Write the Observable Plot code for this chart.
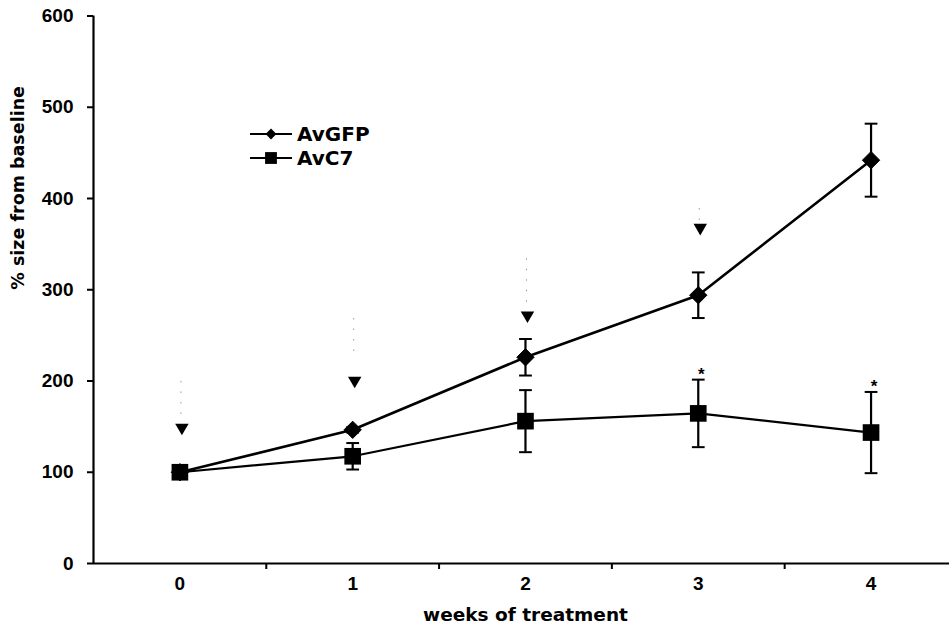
<!DOCTYPE html>
<html>
<head>
<meta charset="utf-8">
<script src="https://cdn.jsdelivr.net/npm/d3@7"></script>
<script src="https://cdn.jsdelivr.net/npm/@observablehq/plot@0.6"></script>
<style>
  html, body { margin: 0; padding: 0; background: #fff; }
  #wrap { position: relative; width: 949px; height: 633px; font-family: "Liberation Sans", Arial, Helvetica, sans-serif; font-weight: bold; }
</style>
</head>
<body>
<div id="wrap"></div>
<script>
// ---- data ----
const weeks = [0, 1, 2, 3, 4];
const gfpMean = [100, 146.5, 226, 294, 442];
const gfpErr  = [0, 3, 20, 25, 40];
const c7Mean  = [100, 117.5, 156, 164.5, 143.5];
const c7Err   = [0, 14.5, 34, 37, 44.5];

const arrowWeeks      = [0, 1, 2, 3];
const arrowHead       = [149, 200.5, 272, 368];
const arrowStemTop    = [199.5, 268.5, 334, 389];
const arrowStemBottom = [161, 224.7, 279, 376];

const starWeeks = [3, 4];

const yTicks = [0, 100, 200, 300, 400, 500, 600];
const xLabelTicks = [0, 1, 2, 3, 4];
const xBoundaryTicks = [0.5, 1.5, 2.5, 3.5];

const seriesNames = ["AvGFP", "AvC7"];

// ---- tables ----
const gfp = weeks.map((w, i) => ({week: w, mean: gfpMean[i], err: gfpErr[i], series: "AvGFP"}));
const c7  = weeks.map((w, i) => ({week: w, mean: c7Mean[i],  err: c7Err[i],  series: "AvC7"}));
const all = gfp.concat(c7);
const withErr = all.filter(d => d.err > 0);
const arrows = arrowWeeks.map((w, i) => ({week: w, head: arrowHead[i], top: arrowStemTop[i], bottom: arrowStemBottom[i]}));
const stars = starWeeks.map(w => c7.find(d => d.week === w));

const capSymbol = {
  draw(context, size) {
    const w = Math.sqrt(size);
    context.moveTo(-w / 2, 0);
    context.lineTo(w / 2, 0);
  }
};

const font = "'Liberation Sans', Arial, Helvetica, sans-serif";
const wideFont = "'DejaVu Sans', Verdana, sans-serif";

const chart = Plot.plot({
  width: 949,
  height: 633,
  marginLeft: 93,
  marginRight: 0,
  marginTop: 15.5,
  marginBottom: 70,
  style: {fontFamily: font, fontWeight: "bold", fontSize: "18px", color: "#000", background: "#fff", overflow: "visible"},
  x: {domain: [-0.5, 4.454], axis: null},
  y: {domain: [0, 600], axis: null},
  marks: [
    // axes
    Plot.axisY({ticks: yTicks, tickSize: 6, tickPadding: 14, strokeWidth: 2, fontSize: 19, fontWeight: "bold", label: null}),
    Plot.axisX({ticks: xBoundaryTicks, tickSize: 6, strokeWidth: 2, tickFormat: () => "", label: null}),
    Plot.axisX({ticks: xLabelTicks, tickSize: 0, tickPadding: 13, tickFormat: d3.format("d"), fontSize: 19, fontWeight: "bold", label: null}),
    Plot.ruleX([-0.5], {strokeWidth: 2.2}),
    Plot.ruleY([0], {strokeWidth: 2}),
    // axis titles
    Plot.text(["% size from baseline"], {frameAnchor: "left", dx: -75, rotate: -90, fontSize: 17.5, fontWeight: "bold", fontFamily: wideFont}),
    Plot.text(["weeks of treatment"], {frameAnchor: "bottom", dx: 4, dy: 57, fontSize: 18.5, fontWeight: "bold", fontFamily: wideFont}),
    // treatment arrows
    Plot.ruleX(arrows, {x: "week", y1: "top", y2: "bottom", stroke: "#999", strokeWidth: 1, strokeDasharray: "1.5,9", dx: 1}),
    Plot.dot(arrows, {x: "week", y: "head", symbol: "triangle", rotate: 180, r: 5, fill: "#000", stroke: "none", dx: 2}),
    // lines
    Plot.line(gfp, {x: "week", y: "mean", stroke: "#000", strokeWidth: 2.6}),
    Plot.line(c7, {x: "week", y: "mean", stroke: "#000", strokeWidth: 2.2}),
    // error bars
    Plot.ruleX(withErr, {x: "week", y1: d => d.mean - d.err, y2: d => d.mean + d.err, stroke: "#000", strokeWidth: 2.2}),
    Plot.dot(withErr, {x: "week", y: d => d.mean + d.err, symbol: capSymbol, r: 7.2, fill: "none", stroke: "#000", strokeWidth: 2}),
    Plot.dot(withErr, {x: "week", y: d => d.mean - d.err, symbol: capSymbol, r: 7.2, fill: "none", stroke: "#000", strokeWidth: 2}),
    // markers
    Plot.dot(gfp, {x: "week", y: "mean", symbol: "diamond2", r: 7.8, fill: "#000", stroke: "#000", strokeWidth: 1}),
    Plot.dot(c7, {x: "week", y: "mean", symbol: "square", r: 9.4, fill: "#000", stroke: "none"}),
    // significance stars
    Plot.text(stars, {x: "week", y: d => d.mean + d.err, text: () => "*", dx: 3, dy: -5, fontSize: 17, fontWeight: "bold"})
  ]
});

const wrap = document.getElementById("wrap");
wrap.appendChild(chart);

// legend (inside plot area, like the reference)
const legend = d3.create("svg")
  .attr("width", 949).attr("height", 633)
  .style("position", "absolute").style("left", "0px").style("top", "0px")
  .style("pointer-events", "none");
const rows = [
  {name: seriesNames[0], y: 134, symbol: d3.symbolDiamond2, size: 75},
  {name: seriesNames[1], y: 158, symbol: d3.symbolSquare, size: 140}
];
const g = legend.selectAll("g").data(rows).join("g").attr("transform", d => `translate(0,${d.y})`);
g.append("line").attr("x1", 250).attr("x2", 292).attr("y1", 0).attr("y2", 0).attr("stroke", "#000").attr("stroke-width", 1.8);
g.append("path").attr("transform", "translate(271,0)").attr("d", d => d3.symbol(d.symbol, d.size)()).attr("fill", "#000");
g.append("text").attr("x", 297).attr("y", 0).attr("dy", "0.36em")
  .attr("font-family", wideFont).attr("font-weight", "bold").attr("font-size", 20)
  .attr("fill", "#000").text(d => d.name);
wrap.appendChild(legend.node());
</script>
</body>
</html>
